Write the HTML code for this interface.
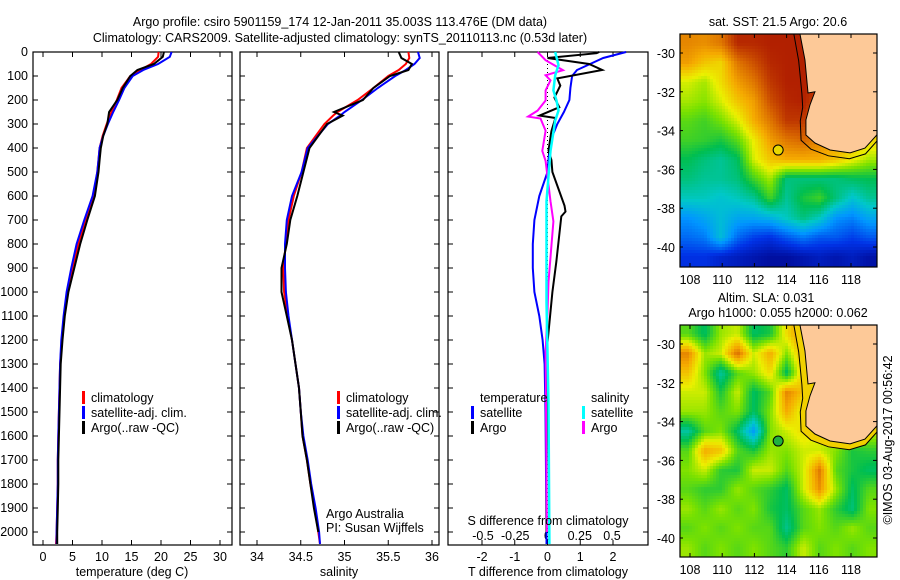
<!DOCTYPE html>
<html><head><meta charset="utf-8"><style>
body{margin:0;background:#fff;}
svg{display:block;font-family:"Liberation Sans",sans-serif;font-size:12.5px;}
</style></head><body>
<svg id="fig" width="900" height="580" viewBox="0 0 900 580">
<text x="340" y="26" text-anchor="middle">Argo profile: csiro 5901159_174 12-Jan-2011 35.003S 113.476E (DM data)</text>
<text x="340" y="42" text-anchor="middle">Climatology: CARS2009. Satellite-adjusted climatology: synTS_20110113.nc (0.53d later)</text>
<text x="778" y="26" text-anchor="middle">sat. SST: 21.5 Argo: 20.6</text>
<text x="766" y="302" text-anchor="middle">Altim. SLA: 0.031</text>
<text x="778" y="317" text-anchor="middle">Argo h1000: 0.055 h2000: 0.062</text>
<text transform="translate(892,440) rotate(-90)" text-anchor="middle">©IMOS 03-Aug-2017 00:56:42</text>
<g id="plots"></g>
</svg>
<script>
// ---- profile data ----
const depthT = [0,20,50,75,100,150,200,250,300,350,400,450,500,600,700,800,900,1000,1100,1200,1300,1400,1500,1600,1700,1800,1900,2000,2050];
const climT = [19.6,19.5,18.3,16.5,14.8,13.3,12.5,11.6,10.8,10.1,9.6,9.4,9.2,8.6,7.2,6.0,5.0,4.2,3.6,3.2,2.9,2.8,2.7,2.6,2.5,2.5,2.4,2.3,2.2];
const satT = [21.8,21.5,19.5,17.0,15.2,13.8,12.9,11.9,11.0,10.2,9.6,9.4,9.2,8.4,7.0,5.7,4.8,4.0,3.5,3.1,2.9,2.8,2.7,2.6,2.5,2.5,2.4,2.3,2.3];
const argoT = [20.5,20.3,18.8,16.0,14.8,13.5,12.6,11.2,10.9,10.2,9.8,9.6,9.4,8.8,7.5,6.3,5.3,4.3,3.7,3.3,3.0,2.9,2.8,2.7,2.6,2.6,2.5,2.4,2.4];
const depthS = [0,25,50,75,100,150,200,250,265,300,400,500,600,700,800,900,1000,1100,1200,1300,1400,1500,1600,1700,1800,1900,2000,2050];
const climS = [35.73,35.74,35.70,35.62,35.50,35.33,35.15,34.92,34.87,34.77,34.57,34.51,34.42,34.36,34.33,34.30,34.31,34.35,34.40,34.44,34.48,34.50,34.52,34.57,34.61,34.66,34.70,34.72];
const satS = [35.84,35.86,35.80,35.70,35.58,35.38,35.20,35.00,34.95,34.81,34.58,34.51,34.40,34.34,34.32,34.32,34.33,34.36,34.40,34.44,34.48,34.50,34.53,34.58,34.62,34.67,34.71,34.72];
const argoS = [35.62,35.65,35.77,35.73,35.52,35.33,35.21,34.88,34.98,34.80,34.60,34.53,34.46,34.38,34.34,34.28,34.28,34.34,34.40,34.44,34.48,34.50,34.52,34.57,34.61,34.65,34.70];
// ---- difference data ----
const depthSatDT = [0,25,50,75,100,150,200,250,300,350,400,500,600,700,800,900,1000,1100,1200,1300,1500,2000,2050];
const satDT = [2.4,1.7,1.3,0.9,0.75,0.7,0.67,0.5,0.3,0.15,0.06,0,-0.25,-0.4,-0.45,-0.45,-0.4,-0.25,-0.15,-0.09,-0.06,-0.03,-0.03];
const depthArgoDT = [0,5,25,50,75,110,140,190,230,265,275,330,410,450,500,640,665,685,875,1000,1125,1210,1500,2000];
const argoDT = [1.58,1.5,0,1.27,1.67,0.3,0.39,0.21,0.36,-0.24,0.24,0.12,0.03,0.12,0.15,0.52,0.55,0.42,0.27,0.15,0.06,0,-0.03,-0.03];
const depthArgoDS = [0,34,76,97,118,160,202,244,269,277,328,412,454,622,706,958,1084,1252,1600,2000];
const argoDS = [-0.077,-0.015,0.12,-0.015,0.023,-0.015,-0.015,-0.077,-0.15,-0.054,-0.015,-0.04,-0.015,0.023,0.046,0.008,0,-0.015,-0.01,-0.005];
const depthSatDS = [0,55,97,160,202,244,286,412,622,1042,1462,2050];
const satDS = [0.06,0.085,0.06,0.046,0.07,0.085,0.06,0.023,-0.008,-0.008,0.008,0.015];
// ---- tick labels ----
const depthTicks = [0,100,200,300,400,500,600,700,800,900,1000,1100,1200,1300,1400,1500,1600,1700,1800,1900,2000];
const tempTicks = [0,5,10,15,20,25,30];
const salTicks = ["34","34.5","35","35.5","36"];
const dTTicks = [-2,-1,0,1,2];
const dSTicks = ["-0.5","-0.25","0","0.25","0.5"];
const lonTicks = [108,110,112,114,116,118];
const latTicks = [-30,-32,-34,-36,-38,-40];
// ---- map grids (rows lat -29 -> -41, cols lon 107.4 -> 119.6) ----
const sstGrid = [
[21.3,21.2,21.5,22.5,22.5,22.6,22.6,22.6,22.6,22,22,22],
[21.0,20.5,20.3,21.5,22.0,22.5,22.6,22.6,22.6,22,22,22],
[19.8,19.5,20.2,21.0,21.5,22.3,22.6,22.6,22.5,22,22,22],
[19.5,19.3,19.8,20.5,21.0,22.0,22.5,22.6,22.0,22,22,22],
[19.0,18.8,19.2,19.8,20.8,21.5,22.3,22.3,21.5,21,21,21],
[18.8,18.7,18.5,19.0,20.0,21.0,21.5,21.7,21.3,21,20.8,20.3],
[18.3,18.0,17.8,18.2,19.8,20.5,20.8,20.8,20.8,20.5,20,19.5],
[18.0,17.8,17.8,18.0,18.8,19.5,18.0,18.0,18.0,18.0,18.2,18.3],
[17.5,17.5,17.3,17.5,17.8,18.8,17.8,18.5,18.8,18.0,17.3,17.8],
[16.5,16.8,17.2,16.8,16.8,17.0,17.5,18.0,17.5,16.5,16.3,16.8],
[16.0,16.2,17.2,16.0,15.5,15.3,15.8,16.2,15.8,15.8,15.5,15.8],
[15.3,15.3,15.0,14.8,14.6,14.4,14.4,14.6,14.8,14.6,14.8,14.5]];
const slaGrid = [
[0.0,-0.05,0.03,0.05,-0.05,-0.03,0.08,0.15,0.1,0.1,0.1,0.1],
[0.15,0.03,0.05,0.17,0.05,0.12,0.02,0.12,0.1,0.1,0.1,0.1],
[0.1,0.02,-0.08,0.0,0.03,0.08,-0.05,0.1,0.1,0.1,0.1,0.1],
[0.05,0.05,-0.03,0.05,-0.05,0.0,0.15,0.1,0.1,0.1,0.1,0.1],
[0.03,0.03,0.0,0.02,-0.05,0.02,0.12,0.05,0.1,0.1,0.1,0.1],
[-0.08,0.0,0.02,-0.05,-0.15,0.02,0.05,0.08,0.06,0.07,0.05,0.05],
[0.0,0.12,0.1,0.0,-0.03,0.03,0.02,0.05,0.05,0.02,-0.03,-0.02],
[0.02,0.05,-0.02,-0.03,0.05,0.05,0.0,0.05,0.16,0.0,-0.03,-0.05],
[0.0,-0.02,-0.02,0.03,0.0,-0.02,-0.05,0.05,0.14,0.03,-0.05,0.0],
[0.03,0.0,0.03,0.0,0.02,-0.03,-0.05,0.0,0.03,-0.02,-0.06,0.02],
[0.0,0.02,0.0,0.02,0.0,0.0,-0.07,0.0,0.02,0.0,0.03,0.0],
[0.03,0.0,0.02,0.0,0.02,0.0,-0.02,0.05,0.0,0.02,0.0,0.02]];
const coastLon = [114.83,115.14,115.33,115.76,115.45,115.2,115.2,115.76,116.7,117.94,118.87,119.6];
const coastLat = [-29.02,-30.36,-32.06,-32.0,-32.68,-33.45,-34.23,-34.64,-35.0,-35.15,-34.9,-34.23];
const shelfLon = [114.45,114.75,114.95,115.0,114.85,114.9,115.5,116.6,117.9,118.9,119.6];
const shelfLat = [-29.02,-30.4,-32.1,-32.8,-33.5,-34.5,-34.95,-35.3,-35.45,-35.2,-34.55];
const floatLon = 113.476, floatLat = -35.003;

const NS='http://www.w3.org/2000/svg';
const root=document.getElementById('plots');
function mk(tag,attrs,parent){const e=document.createElementNS(NS,tag);for(const k in attrs)e.setAttribute(k,attrs[k]);(parent||root).appendChild(e);return e;}
function lin(d0,d1,r0,r1){return v=>r0+(v-d0)*(r1-r0)/(d1-d0);}
const yD=lin(0,2000,52,532);
const TOP=52,BOT=545;

function panel(name,x0,x1){
  const g=mk('g',{});
  
  
  const r=mk('rect',{x:x0,y:TOP,width:x1-x0,height:BOT-TOP,fill:'none',stroke:'#000','stroke-width':1.2},g);
  
  
  depthTicks.forEach(d=>{
    mk('line',{x1:x0,x2:x0+5,y1:yD(d),y2:yD(d),stroke:'#000'},g);
    mk('line',{x1:x1-5,x2:x1,y1:yD(d),y2:yD(d),stroke:'#000'},g);
  });
  return g;
}
function xticks(g,sx,vals,labels,y){
  vals.forEach((v,i)=>{
    const x=sx(v);
    mk('line',{x1:x,x2:x,y1:TOP,y2:TOP+5,stroke:'#000'},g);
    mk('line',{x1:x,x2:x,y1:BOT-5,y2:BOT,stroke:'#000'},g);
    if(labels){const t=mk('text',{x:x,y:y,'text-anchor':'middle'},g);t.textContent=labels[i];
      
      }
  });
}
function line(g,sx,vals,depths,color,name,w){
  const pts=vals.map((v,i)=>sx(v).toFixed(1)+','+yD(depths[i]).toFixed(1)).join(' ');
  const p=mk('polyline',{points:pts,fill:'none',stroke:color,'stroke-width':w||2},g);
  
  
}
function legend(g,x,y,items){
  items.forEach((it,i)=>{
    if(it[1]) mk('rect',{x:x,y:y+i*15-11,width:3,height:13,fill:it[1]},g);
    const t=mk('text',{x:x+9,y:y+i*15},g);t.textContent=it[0];
    
    
  });
}
function label(g,x,y,s,name,anchor){const t=mk('text',{x:x,y:y,'text-anchor':anchor||'middle'},g);t.textContent=s;
  
  return t;}

// Panel 1 temperature
const sT=lin(0,30,43,220);
const g1=panel('temperature-panel',33,232);
xticks(g1,sT,tempTicks,tempTicks,561);
depthTicks.forEach(d=>label(g1,28,yD(d)+4,String(d),'depth-tick-label','end'));
line(g1,sT,climT,depthT,'#f00','climatology-temperature-line');
line(g1,sT,satT,depthT,'#00f','satellite-temperature-line');
line(g1,sT,argoT,depthT.slice(0,argoT.length),'#000','argo-temperature-line');
legend(g1,82,402,[['climatology','#f00'],['satellite-adj. clim.','#00f'],['Argo(..raw -QC)','#000']]);
label(g1,132,576,'temperature (deg C)','x-axis-title-temperature');

// Panel 2 salinity
const sS=lin(34,36,257,432);
const g2=panel('salinity-panel',240,439);
xticks(g2,sS,salTicks.map(Number),salTicks,561);
line(g2,sS,climS,depthS,'#f00','climatology-salinity-line');
line(g2,sS,satS,depthS,'#00f','satellite-salinity-line');
line(g2,sS,argoS,depthS.slice(0,argoS.length),'#000','argo-salinity-line');
legend(g2,337,402,[['climatology','#f00'],['satellite-adj. clim.','#00f'],['Argo(..raw -QC)','#000']]);
label(g2,326,518,'Argo Australia','credit-argo-australia','start');
label(g2,326,532,'PI: Susan Wijffels','credit-pi','start');
label(g2,339,576,'salinity','x-axis-title-salinity');

// Panel 3 differences
const sDT=lin(-2,2,482,613);
const sDS=lin(-0.5,0.5,483,612);
const g3=panel('difference-panel',448,648);
xticks(g3,sDT,dTTicks,dTTicks,561);
dSTicks.forEach(s=>label(g3,sDS(Number(s)),540,s,'s-diff-tick-label'));
mk('line',{x1:sDT(0),x2:sDT(0),y1:TOP,y2:BOT,stroke:'#000','stroke-dasharray':'1,3'},g3);
line(g3,sDT,satDT,depthSatDT,'#00f','satellite-t-diff-line');
line(g3,sDT,argoDT,depthArgoDT,'#000','argo-t-diff-line');
line(g3,sDS,argoDS,depthArgoDS,'#f0f','argo-s-diff-line');
line(g3,sDS,satDS,depthSatDS,'#0ff','satellite-s-diff-line',2.5);
legend(g3,471,402,[['temperature',null],['satellite','#00f'],['Argo','#000']]);
legend(g3,582,402,[['salinity',null],['satellite','#0ff'],['Argo','#f0f']]);
label(g3,548,525,'S difference from climatology','s-diff-axis-title');
label(g3,548,576,'T difference from climatology','t-diff-axis-title');

// colormap resembling reference
const cmapStops=[[0,[0,0,130]],[0.15,[0,50,230]],[0.28,[0,150,255]],[0.38,[0,200,200]],[0.48,[0,190,80]],[0.58,[120,225,0]],[0.66,[235,240,0]],[0.76,[245,170,0]],[0.86,[215,100,0]],[1,[160,0,0]]];
function cmap(t){t=Math.max(0,Math.min(1,t));
  for(let i=1;i<cmapStops.length;i++){if(t<=cmapStops[i][0]){const a=cmapStops[i-1],b=cmapStops[i];const f=(t-a[0])/(b[0]-a[0]);
    return 'rgb('+a[1].map((c,k)=>Math.round(c+(b[1][k]-c)*f)).join(',')+')';}}
  return 'rgb(160,0,0)';}
function map(name,top,bot,latTop,latBot,grid,vmin,vmax,circleFill,id){
  const L=680,R=877;
  const sx=lin(108,118,690,851), sy=lin(-30,-40,top+19,top+19+194);
  const ix=lin(690,851,108,118), iy=lin(top+19,top+19+194,-30,-40);
  const g=mk('g',{});
  
  
  const defs=mk('defs',{},g);
  const cp=mk('clipPath',{id:'clip'+id},defs);
  mk('rect',{x:L,y:top,width:R-L,height:bot-top},cp);
  const inner=mk('g',{'clip-path':'url(#clip'+id+')'},g);
  const hm=mk('g',{'shape-rendering':'crispEdges'},inner);
  const nr=grid.length,nc=grid[0].length;
  const lon0=107.38,lon1=119.62;
  const S=3;
  for(let py=top;py<bot;py+=S){
    for(let px=L;px<R;px+=S){
      const lon=ix(px+S/2), lat=iy(py+S/2);
      let fj=(lon-lon0)/(lon1-lon0)*nc-0.5, fi=(lat-latTop)/(latBot-latTop)*nr-0.5;
      fj=Math.max(0,Math.min(nc-1,fj)); fi=Math.max(0,Math.min(nr-1,fi));
      const j0=Math.floor(fj),i0=Math.floor(fi),j1=Math.min(nc-1,j0+1),i1=Math.min(nr-1,i0+1);
      const a=fj-j0,b=fi-i0;
      const v=grid[i0][j0]*(1-a)*(1-b)+grid[i0][j1]*a*(1-b)+grid[i1][j0]*(1-a)*b+grid[i1][j1]*a*b;
      const c=mk('rect',{x:px,y:py,width:S,height:S,fill:cmap((v-vmin)/(vmax-vmin))},hm);
      
      
    }
  }
  const cpts=coastLon.map((v,i)=>sx(v)+','+sy(coastLat[i]));
  const spts=shelfLon.map((v,i)=>sx(v)+','+sy(shelfLat[i]));
  if(id==2){
    const band=mk('polygon',{points:spts.concat(cpts.slice().reverse()).join(' '),fill:'#f0d000'},inner);
    
    
  }
  const land=mk('polygon',{points:cpts.join(' ')+' '+(R+5)+','+sy(coastLat[coastLat.length-1])+' '+(R+5)+','+(top-5)+' '+sx(coastLon[0])+','+(top-5),fill:'#fdc998',stroke:'#000','stroke-width':1},inner);
  
  
  const iso=mk('polyline',{points:spts.join(' '),fill:'none',stroke:'#000','stroke-width':1},inner);
  
  
  const c=mk('circle',{cx:sx(floatLon),cy:sy(floatLat),r:5,fill:circleFill,stroke:'#000','stroke-width':1},inner);
  
  
  mk('rect',{x:L,y:top,width:R-L,height:bot-top,fill:'none',stroke:'#000','stroke-width':1.2},g);
  lonTicks.forEach(v=>{const x=sx(v);
    mk('line',{x1:x,x2:x,y1:top,y2:top+4,stroke:'#000'},g);
    mk('line',{x1:x,x2:x,y1:bot-4,y2:bot,stroke:'#000'},g);
    label(g,x,bot+17,String(v),'lon-tick-label');});
  latTicks.forEach(v=>{const y=sy(v);
    mk('line',{x1:R-4,x2:R,y1:y,y2:y,stroke:'#000'},g);
    mk('line',{x1:L,x2:L+3,y1:y,y2:y,stroke:'#000'},g);
    label(g,675,y+5,String(v),'lat-tick-label','end');});
}
map('sst-map',34,267,-29,-41,sstGrid,14,23,'#e8d800',1);
map('sla-map',325,557,-29,-41,slaGrid,-0.32,0.26,'#20b040',2);
</script>
</body></html>
